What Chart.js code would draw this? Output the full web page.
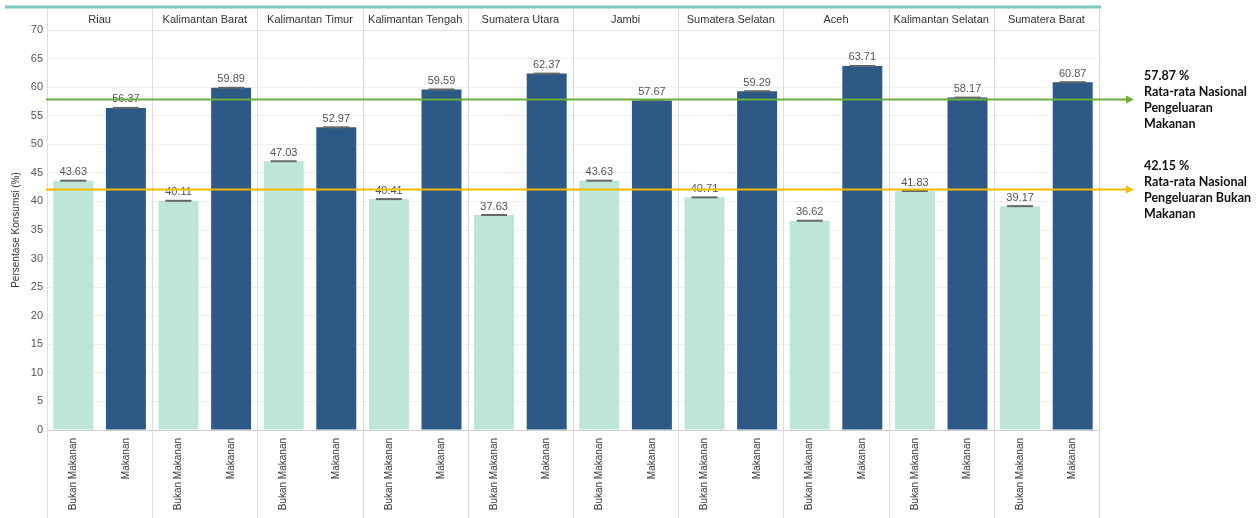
<!DOCTYPE html>
<html>
<head>
<meta charset="utf-8">
<script src="https://cdn.jsdelivr.net/npm/chart.js@4/dist/chart.umd.min.js"></script>
<style>
  html, body { margin: 0; padding: 0; background: #fff; }
  #wrap { position: relative; width: 1259px; height: 518px; }
</style>
</head>
<body>
<div id="wrap"><canvas id="chart" width="1259" height="518"></canvas></div>
<script>
const PROVINCES = ['Riau', 'Kalimantan Barat', 'Kalimantan Timur', 'Kalimantan Tengah', 'Sumatera Utara',
  'Jambi', 'Sumatera Selatan', 'Aceh', 'Kalimantan Selatan', 'Sumatera Barat']
const BUKAN_MAKANAN = [43.63, 40.11, 47.03, 40.41, 37.63, 43.63, 40.71, 36.62, 41.83, 39.17]
const MAKANAN       = [56.37, 59.89, 52.97, 59.59, 62.37, 57.67, 59.29, 63.71, 58.17, 60.87]
const TYPES = ['Bukan Makanan', 'Makanan']
const Y_TICKS = [0, 5, 10, 15, 20, 25, 30, 35, 40, 45, 50, 55, 60, 65, 70]

// national averages (reference lines on the right)
const AVG_MAKANAN = 57.87
const AVG_BUKAN   = 42.15

const COLOR_BUKAN   = '#bde5d8'
const COLOR_MAKANAN = '#2d5986'
const FONT = '"Liberation Sans", Arial, sans-serif'

const labels = []
const values = []
const colors = []
PROVINCES.forEach((p, i) => {
  labels.push(TYPES[0], TYPES[1])
  values.push(BUKAN_MAKANAN[i], MAKANAN[i])
  colors.push(COLOR_BUKAN, COLOR_MAKANAN)
})

const frame = {
  id: 'frame',
  beforeDatasetsDraw(chart) {
    const { ctx, chartArea: a, scales: { x } } = chart
    const w = x.width / labels.length
    ctx.save()
    // panel separators
    ctx.strokeStyle = '#dcdcdc'
    ctx.lineWidth = 1
    for (let k = 0; k <= PROVINCES.length; k++) {
      const px = Math.round(x.left + k * 2 * w) + 0.5
      ctx.beginPath()
      ctx.moveTo(px, 9)
      ctx.lineTo(px, 518)
      ctx.stroke()
    }
    // header row
    ctx.fillStyle = '#333'
    ctx.font = '11px ' + FONT
    ctx.textAlign = 'center'
    ctx.textBaseline = 'middle'
    PROVINCES.forEach((p, k) => {
      ctx.fillText(p, x.left + (k * 2 + 1) * w, 20)
    })
    ctx.strokeStyle = '#e6e6e6'
    ctx.beginPath()
    ctx.moveTo(a.left, Math.round(a.top) + 0.5)
    ctx.lineTo(a.right, Math.round(a.top) + 0.5)
    ctx.stroke()
    // teal strip on top
    ctx.strokeStyle = '#80c6c1'
    ctx.lineWidth = 3
    ctx.beginPath()
    ctx.moveTo(5, 7)
    ctx.lineTo(a.right + 2, 7)
    ctx.stroke()
    ctx.restore()
  },
  afterDatasetsDraw(chart) {
    const { ctx, scales: { y } } = chart
    const meta = chart.getDatasetMeta(0)
    ctx.save()
    ctx.font = '11px ' + FONT
    ctx.textAlign = 'center'
    ctx.textBaseline = 'bottom'
    meta.data.forEach((bar, i) => {
      ctx.strokeStyle = '#666'
      ctx.lineWidth = 2
      ctx.beginPath()
      ctx.moveTo(bar.x - 13, bar.y)
      ctx.lineTo(bar.x + 13, bar.y)
      ctx.stroke()
      ctx.fillStyle = '#555'
      ctx.fillText(values[i].toFixed(2), bar.x, bar.y - 3)
    })
    // average lines with arrows
    const lines = [
      { v: AVG_MAKANAN, color: '#6aae3c', text: [AVG_MAKANAN.toFixed(2) + ' %', 'Rata-rata Nasional', 'Pengeluaran', 'Makanan'] },
      { v: AVG_BUKAN, color: '#f5b800', text: [AVG_BUKAN.toFixed(2) + ' %', 'Rata-rata Nasional', 'Pengeluaran Bukan', 'Makanan'] },
    ]
    lines.forEach(l => {
      const py = Math.round(y.getPixelForValue(l.v)) + 0.5
      ctx.strokeStyle = l.color
      ctx.fillStyle = l.color
      ctx.lineWidth = 2
      ctx.beginPath()
      ctx.moveTo(46, py)
      ctx.lineTo(1128, py)
      ctx.stroke()
      ctx.beginPath()
      ctx.moveTo(1134, py)
      ctx.lineTo(1126, py - 4)
      ctx.lineTo(1126, py + 4)
      ctx.closePath()
      ctx.fill()
      ctx.fillStyle = '#111'
      ctx.font = 'bold 12.5px Lato, sans-serif'
      ctx.textAlign = 'left'
      ctx.textBaseline = 'middle'
      l.text.forEach((t, j) => ctx.fillText(t, 1144, py - 24 + j * 16))
    })
    ctx.restore()
  },
}

new Chart(document.getElementById('chart'), {
  type: 'bar',
  data: {
    labels,
    datasets: [{
      data: values,
      backgroundColor: colors,
      borderWidth: 0,
      barPercentage: 0.76,
      categoryPercentage: 1,
    }],
  },
  options: {
    responsive: false,
    animation: false,
    layout: { padding: { top: 30, right: 160, left: 0, bottom: 0 } },
    plugins: { legend: { display: false }, tooltip: { enabled: false } },
    scales: {
      x: {
        offset: true,
        grid: { display: false },
        border: { color: '#d0d0d0' },
        afterFit: s => { s.height = 88 },
        ticks: {
          minRotation: 90,
          maxRotation: 90,
          autoSkip: false,
          padding: 0,
          color: '#333',
          font: { family: FONT, size: 10 },
        },
      },
      y: {
        min: 0,
        max: 70,
        afterFit: s => { s.width = 47 },
        afterBuildTicks: s => { s.ticks = Y_TICKS.map(v => ({ value: v })) },
        grid: { color: '#f0f0f0', drawTicks: false },
        border: { color: '#d9d9d9' },
        ticks: {
          padding: 4,
          color: '#555',
          font: { family: FONT, size: 11 },
        },
        title: {
          display: true,
          text: 'Persentase Konsumsi (%)',
          color: '#333',
          font: { family: FONT, size: 10 },
          padding: { top: 10, bottom: 0 },
        },
      },
    },
  },
  plugins: [frame],
})
</script>
</body>
</html>
